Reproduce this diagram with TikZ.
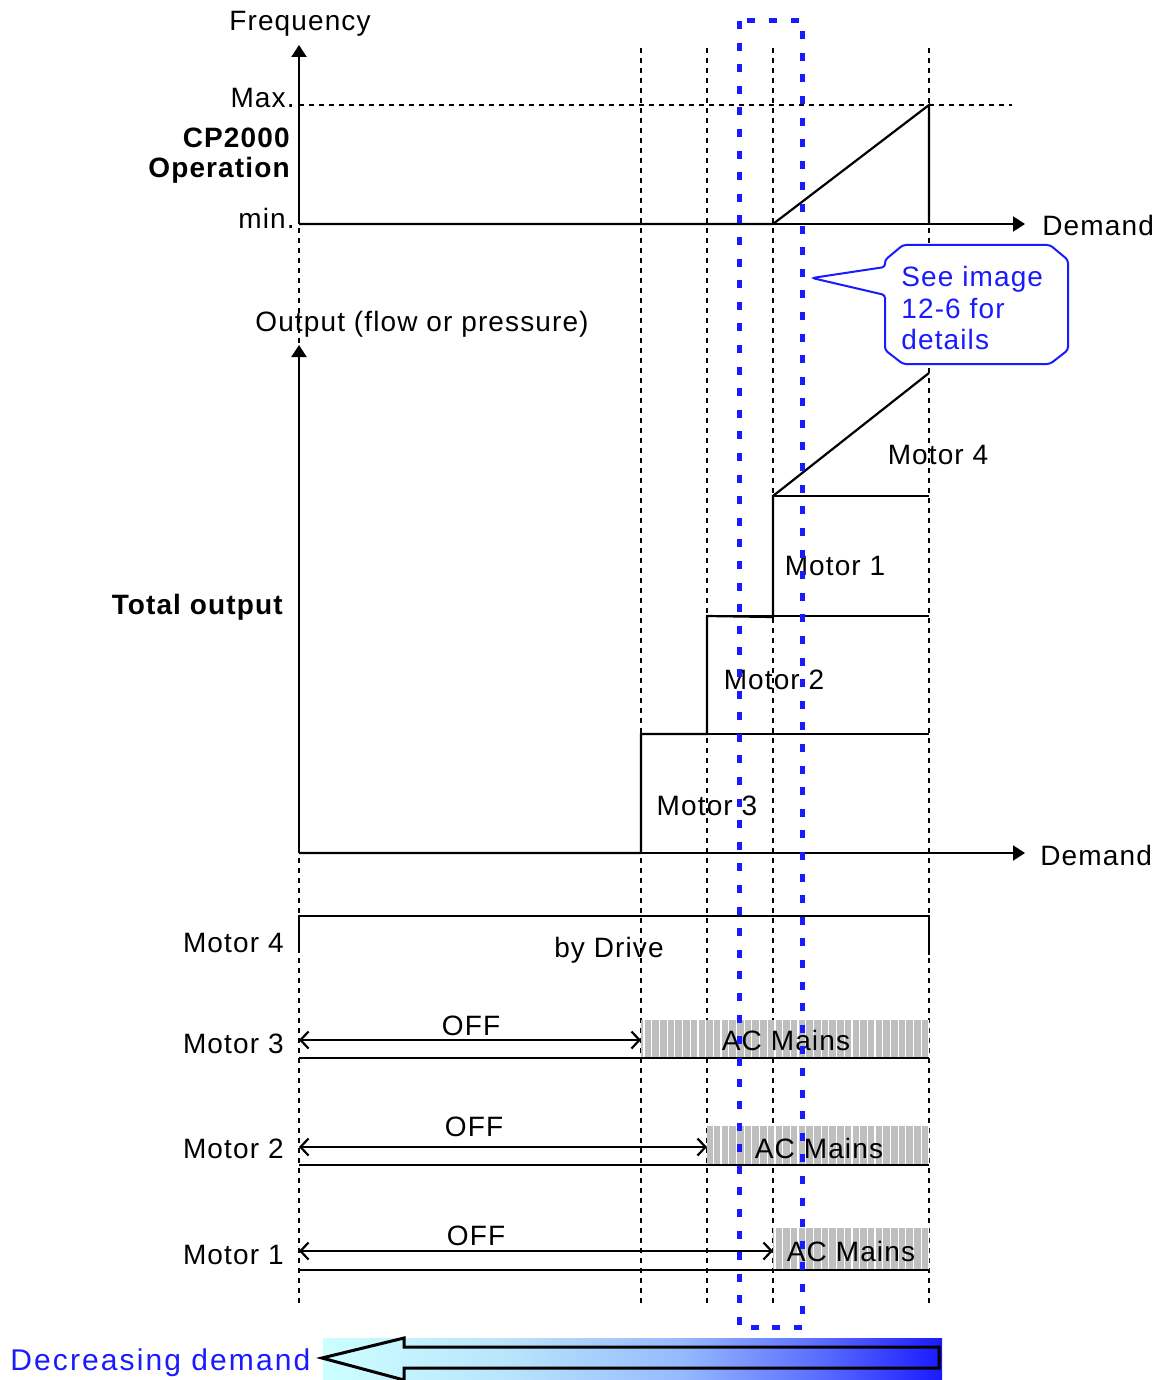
\documentclass[tikz,border=0pt]{standalone}
\usepackage{fontspec}
\setmainfont{Liberation Sans}[LetterSpace=4]
\newfontfamily\widefont{Liberation Sans}[LetterSpace=7]
\usetikzlibrary{arrows.meta}
\definecolor{callblue}{RGB}{26,26,255}
\definecolor{mainsgray}{RGB}{191,191,191}
\definecolor{fadeA}{RGB}{204,255,255}
\definecolor{fadeB}{RGB}{185,228,252}
\definecolor{fadeC}{RGB}{150,185,255}
\definecolor{fadeD}{RGB}{90,110,255}
\pgfdeclarehorizontalshading{demandfade}{100bp}{color(0bp)=(fadeA); color(25bp)=(fadeA); color(40bp)=(fadeB); color(54bp)=(fadeC); color(65bp)=(fadeD); color(75bp)=(callblue); color(100bp)=(callblue)}

\begin{document}
\begin{tikzpicture}[x=0.5pt, y=-0.5pt, font=\fontsize{14}{17}\selectfont,
  lbl/.style={inner sep=0pt, text height=10pt, text depth=0pt},
  guide/.style={line width=0.75pt, dash pattern=on 2.5pt off 2.5pt},
  axis/.style={line width=1pt, -{Triangle[length=6pt,width=7.5pt]}},
  curve/.style={line width=1.1pt, line join=miter},
  span/.style={line width=0.9pt, {Straight Barb[length=4pt,width=8.5pt,line width=1.1pt]}-{Straight Barb[length=4pt,width=8.5pt,line width=1.1pt]}},
  zoombox/.style={callblue, line width=2.5pt, dash pattern=on 4pt off 6.8pt}]
  \useasboundingbox (0,0) rectangle (1168,1380);
  \def\xo{299}   % common origin of both axes
  \def\xe{929}   % end of demand range
  % --- guide lines ---
  \foreach \gx in {641,707,773,\xe} \draw[guide] (\gx,48) -- (\gx,1303);
  \draw[guide] (\xo,58) -- (\xo,1303);
  \draw[guide] (\xo,105) -- (1012,105);
  % --- frequency of the drive ---
  \coordinate (forig) at (\xo,224);
  \coordinate (ftop) at (\xo,45);
  \coordinate (fend) at (1025,224);
  \draw[axis] (forig) -- (ftop);
  \draw[axis] (forig) -- (fend);
  \draw[curve] (forig) -- (773,224) -- (\xe,105) -- (\xe,224);
  \node[lbl] (freqlab) at (300,21) {Frequency};
  \node[lbl, anchor=east] (maxlab) at (295,98) {Max.};
  \node[lbl, anchor=east, font=\fontsize{14}{17}\selectfont\bfseries] (cplab) at (290,138) {CP2000};
  \node[lbl, anchor=east, font=\fontsize{14}{17}\selectfont\bfseries] (oplab) at (290,168) {Operation};
  \node[lbl, anchor=east] (minlab) at (295,218) {min.};
  \node[lbl, anchor=west] (demtop) at (1042,225) {Demand};
  % --- callout ---
  \draw[callblue, fill=white, line width=1pt, rounded corners=1.5pt]
    (903,245) -- (1050,245) -- (1068,260) -- (1068,350) -- (1050,364)
    -- (903,364) -- (885,350) -- (885,295) -- (812,278) -- (885,267)
    -- (885,260) -- cycle;
  \node[lbl, anchor=west, callblue] (see1) at (901,276) {See image};
  \node[lbl, anchor=west, callblue] (see2) at (901,308) {12-6 for};
  \node[lbl, anchor=west, callblue] (see3) at (901,339) {details};
  % --- total output ---
  \coordinate (oorig) at (\xo,853);
  \coordinate (otop) at (\xo,345);
  \coordinate (oend) at (1025,853);
  \draw[axis] (oorig) -- (otop);
  \draw[axis] (oorig) -- (oend);
  \draw[curve] (oorig) -- (641,853) -- (641,734) -- (707,734) -- (707,616)
    -- (773,617) -- (773,496) -- (\xe,373);
  \foreach \sx/\sy in {641/734, 707/616, 773/496}
    \draw[line width=1pt] (\sx,\sy) -- (\xe,\sy);
  \node[lbl, anchor=west] (outlab) at (255,321) {Output (flow or pressure)};
  \node[lbl, anchor=east, font=\fontsize{14}{17}\selectfont\bfseries] (totlab) at (283,604) {Total output};
  \node[lbl] (mot4) at (938,454) {Motor 4};
  \node[lbl] (mot1) at (835,565) {Motor 1};
  \node[lbl] (mot2) at (774,679) {Motor 2};
  \node[lbl] (mot3) at (707,805) {Motor 3};
  \node[lbl, anchor=west] (dembot) at (1040,855) {Demand};
  % --- motor states ---
  \draw[line width=1pt] (\xo,953) -- (\xo,916) -- (\xe,916) -- (\xe,955);
  \node[lbl, anchor=east] (row4) at (284,942) {Motor 4};
  \node[lbl] (drive) at (609,947) {by Drive};
  \foreach \xs/\yt/\yb in {641/1020/1058, 707/1126/1165, 773/1228/1270} {
    \begin{scope}
      \clip (\xs,\yt) rectangle (\xe,\yb);
      \fill[mainsgray] (\xs,\yt) rectangle (\xe,\yb);
      \foreach \hx in {644,651.7,...,929} \draw[white, line width=0.6pt] (\hx,\yt) -- (\hx,\yb);
    \end{scope}
  }
  \foreach \xs/\ya/\yb in {641/1040/1058, 707/1147/1165, 773/1251/1270} {
    \draw[line width=1pt] (\xo,\yb) -- (\xe,\yb);
    \draw[span] (\xo,\ya) -- (\xs,\ya);
  }
  \foreach \m/\ry in {3/1043, 2/1148, 1/1254}
    \node[lbl, anchor=east] (row\m) at (284,\ry) {Motor \m};
  \foreach \m/\ox/\oy in {3/471/1025, 2/474/1126, 1/476/1235}
    \node[lbl] (off\m) at (\ox,\oy) {OFF};
  \foreach \m/\ax/\ay in {3/786/1040, 2/819/1148, 1/851/1251}
    \node[lbl] (mains\m) at (\ax,\ay) {AC Mains};
  % --- region of interest ---
  \draw[zoombox] (739,21) rectangle (802,1327);
  % --- decreasing demand bar ---
  \shade[shading=demandfade] (323,1338) rectangle (942,1380);
  \draw[line width=1.5pt, line join=miter] (939,1347) -- (404,1347) -- (404,1338)
    -- (322,1358) -- (404,1380) -- (404,1368) -- (939,1368) -- cycle;
  \node[lbl, anchor=west, callblue, font=\fontsize{15}{18}\selectfont\widefont, text height=10.7pt] (decr) at (10,1360) {Decreasing demand};
\end{tikzpicture}
\end{document}
